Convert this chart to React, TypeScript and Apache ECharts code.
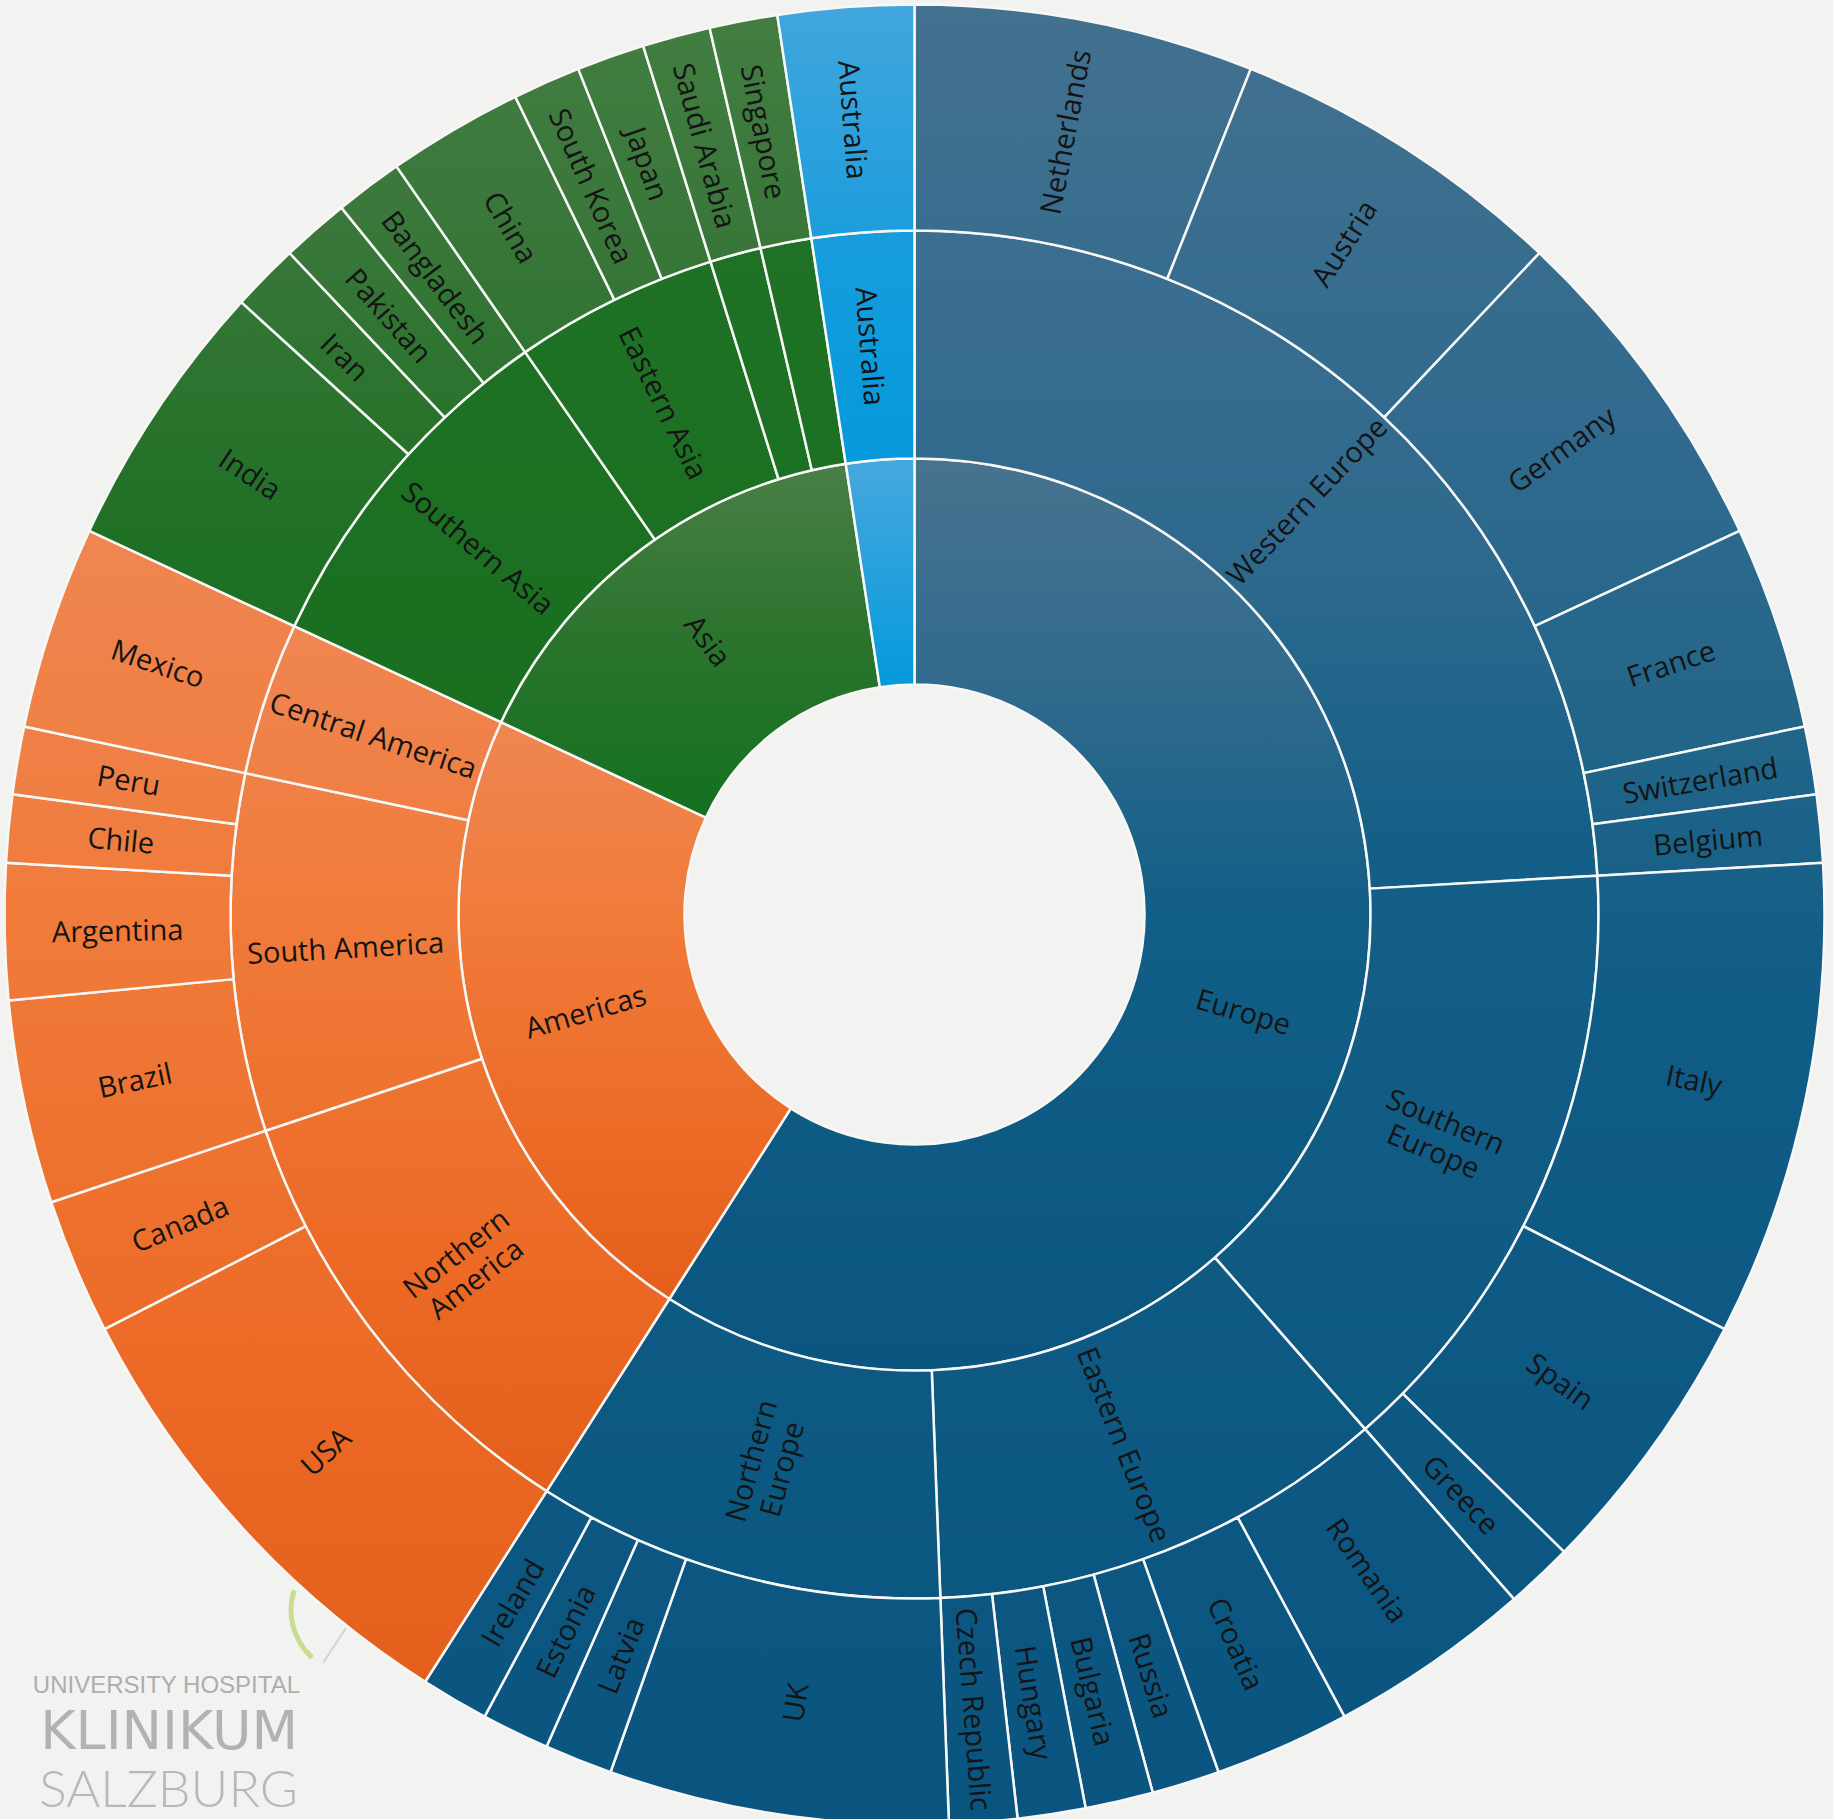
import React, { useEffect, useRef } from "react";
import * as echarts from "echarts";

// ---------- DATA ----------
const regionNames = ["Europe", "Americas", "Asia", "Oceania"];
const regionLabels = ["Europe", "Americas", "Asia", ""];

const westernEuropeCountries = ["Netherlands", "Austria", "Germany", "France", "Switzerland", "Belgium"];
const westernEuropeValues = [5, 5, 5, 3, 1, 1];
const southernEuropeCountries = ["Italy", "Spain", "Greece"];
const southernEuropeValues = [7, 4, 1];
const easternEuropeCountries = ["Romania", "Croatia", "Russia", "Bulgaria", "Hungary", "Czech Republic"];
const easternEuropeValues = [3, 2, 1, 1, 1, 1];
const northernEuropeCountries = ["UK", "Latvia", "Estonia", "Ireland"];
const northernEuropeValues = [5, 1, 1, 1];
const northernAmericaCountries = ["USA", "Canada"];
const northernAmericaValues = [7, 2];
const southAmericaCountries = ["Brazil", "Argentina", "Chile", "Peru"];
const southAmericaValues = [3, 2, 1, 1];
const centralAmericaCountries = ["Mexico"];
const centralAmericaValues = [3];
const southernAsiaCountries = ["India", "Iran", "Pakistan", "Bangladesh"];
const southernAsiaValues = [4, 1, 1, 1];
const easternAsiaCountries = ["China", "South Korea", "Japan"];
const easternAsiaValues = [2, 1, 1];
const westernAsiaCountries = ["Saudi Arabia"];
const westernAsiaValues = [1];
const southEastAsiaCountries = ["Singapore"];
const southEastAsiaValues = [1];
const australiaCountries = ["Australia"];
const australiaValues = [2];

const subregionNames = [
  "Western Europe", "Southern Europe", "Eastern Europe", "Northern Europe",
  "Northern America", "South America", "Central America",
  "Southern Asia", "Eastern Asia", "Western Asia", "South-eastern Asia",
  "Australia and New Zealand",
];
const subregionLabels = [
  "Western Europe", "Southern\nEurope", "Eastern Europe", "Northern\nEurope",
  "Northern\nAmerica", "South America", "Central America",
  "Southern Asia", "Eastern Asia", "", "",
  "Australia",
];
const subregionParents = [
  "Europe", "Europe", "Europe", "Europe",
  "Americas", "Americas", "Americas",
  "Asia", "Asia", "Asia", "Asia",
  "Oceania",
];
const subregionCountries = [
  westernEuropeCountries, southernEuropeCountries, easternEuropeCountries, northernEuropeCountries,
  northernAmericaCountries, southAmericaCountries, centralAmericaCountries,
  southernAsiaCountries, easternAsiaCountries, westernAsiaCountries, southEastAsiaCountries,
  australiaCountries,
];
const subregionValues = [
  westernEuropeValues, southernEuropeValues, easternEuropeValues, northernEuropeValues,
  northernAmericaValues, southAmericaValues, centralAmericaValues,
  southernAsiaValues, easternAsiaValues, westernAsiaValues, southEastAsiaValues,
  australiaValues,
];

// ---------- STYLE ----------
const W = 1833;
const H = 1819;
const CX = 914.5;
const CY = 914.5;
const RADII = [230, 456, 684, 910];

type Stops = [number, string][];
const palette: Record<string, Stops[]> = {
  Europe: [
    [[0, "#47738f"], [0.25, "#306a8d"], [0.5, "#115e87"], [1, "#0a5680"]],
    [[0, "#3c6e90"], [0.25, "#2d698d"], [0.45, "#145f87"], [1, "#0a5781"]],
    [[0, "#43718f"], [0.25, "#2f6a8e"], [0.4, "#226589"], [0.55, "#0f5c86"], [1, "#0a5580"]],
  ],
  Americas: [
    [[0, "#f49a6a"], [0.3, "#ef8550"], [0.5, "#f07b3b"], [0.75, "#ec6a26"], [1, "#e05a17"]],
    [[0, "#f49a6a"], [0.3, "#ef8550"], [0.5, "#f07b3b"], [0.75, "#ec6a26"], [1, "#e05a17"]],
    [[0, "#f49a6a"], [0.3, "#ef8550"], [0.5, "#f07b3b"], [0.75, "#ec6a26"], [1, "#e05a17"]],
  ],
  Asia: [
    [[0, "#4b7f47"], [0.2, "#2a742d"], [0.4, "#137020"], [1, "#106818"]],
    [[0, "#1f7225"], [1, "#106818"]],
    [[0, "#437d41"], [0.12, "#3a773a"], [0.3, "#1e7024"], [1, "#106818"]],
  ],
  Oceania: [
    [[0, "#47a8de"], [0.25, "#0599dc"], [1, "#0598db"]],
    [[0, "#189ddc"], [0.17, "#0599dc"], [1, "#0598db"]],
    [[0, "#42a6dd"], [0.13, "#1c9ddc"], [1, "#0598db"]],
  ],
};

function grad(depth: number, stops: Stops) {
  const R = RADII[depth];
  return new echarts.graphic.LinearGradient(
    0, CY - R, 0, CY + R,
    stops.map(([offset, color]) => ({ offset, color })),
    true
  );
}

function buildData() {
  return regionNames.map((rn, ri) => ({
    name: rn,
    itemStyle: { color: grad(1, palette[rn][0]) },
    label: regionLabels[ri] ? {} : { show: false },
    children: subregionNames
      .map((sn, si) => ({ sn, si }))
      .filter((x) => subregionParents[x.si] === rn)
      .map(({ sn, si }) => ({
        name: sn,
        itemStyle: { color: grad(2, palette[rn][1]) },
        label: subregionLabels[si] ? {} : { show: false },
        children: subregionCountries[si].map((c, ci) => ({
          name: c,
          value: subregionValues[si][ci],
          itemStyle: { color: grad(3, palette[rn][2]) },
        })),
      })),
  }));
}

const labelMap: Record<string, string> = {};
subregionNames.forEach((n, i) => { if (subregionLabels[i]) labelMap[n] = subregionLabels[i]; });

export default function App() {
  const ref = useRef<HTMLDivElement>(null);
  useEffect(() => {
    if (!ref.current) return;
    const chart = echarts.init(ref.current, null, { renderer: "svg" });
    chart.setOption({
      animation: false,
      backgroundColor: "#f2f2f1",
      graphic: [
        {
          type: "arc",
          z: 0,
          shape: { cx: 355, cy: 1610, r: 64, startAngle: (132 * Math.PI) / 180, endAngle: (198 * Math.PI) / 180, clockwise: true },
          style: { stroke: "#c8dd90", lineWidth: 5, fill: null },
        },
        {
          type: "line",
          z: 0,
          shape: { x1: 323, y1: 1663, x2: 346, y2: 1628 },
          style: { stroke: "#d2d2d2", lineWidth: 2 },
        },
        {
          type: "text",
          z: 0,
          style: {
            text: "UNIVERSITY HOSPITAL", x: 300, y: 1684, textAlign: "right", textVerticalAlign: "middle",
            font: "normal 24px 'Liberation Sans', Arial, sans-serif", fill: "#adadad",
          },
        },
        {
          type: "text",
          z: 0,
          style: {
            text: "KLINIKUM", x: 298, y: 1730, textAlign: "right", textVerticalAlign: "middle",
            font: "normal 54px 'DejaVu Sans', sans-serif", fill: "#b2b2b2",
          },
        },
        {
          type: "text",
          z: 0,
          style: {
            text: "SALZBURG", x: 298, y: 1787, textAlign: "right", textVerticalAlign: "middle",
            font: "300 52px 'Lato', 'DejaVu Sans', sans-serif", fill: "#b8b8b8",
          },
        },
      ],
      series: [
        {
          type: "sunburst",
          center: [CX, CY],
          radius: [RADII[0], RADII[3]],
          startAngle: 90,
          clockwise: true,
          sort: null,
          nodeClick: false,
          emphasis: { disabled: true },
          data: buildData(),
          itemStyle: { borderWidth: 2.5, borderColor: "#f7f7f5" },
          label: {
            rotate: "radial",
            color: "#141414",
            fontSize: 29,
            fontFamily: "'Open Sans', sans-serif",
            lineHeight: 32,
            formatter: (p: any) => labelMap[p.name] ?? p.name,
          },
          levels: [
            {},
            { r0: RADII[0], r: RADII[1] },
            { r0: RADII[1], r: RADII[2] },
            { r0: RADII[2], r: RADII[3] },
          ],
        },
      ],
    });
    return () => chart.dispose();
  }, []);
  return (
    <div
      ref={ref}
      style={{ position: "absolute", left: 0, top: 0, width: W, height: H }}
    />
  );
}
